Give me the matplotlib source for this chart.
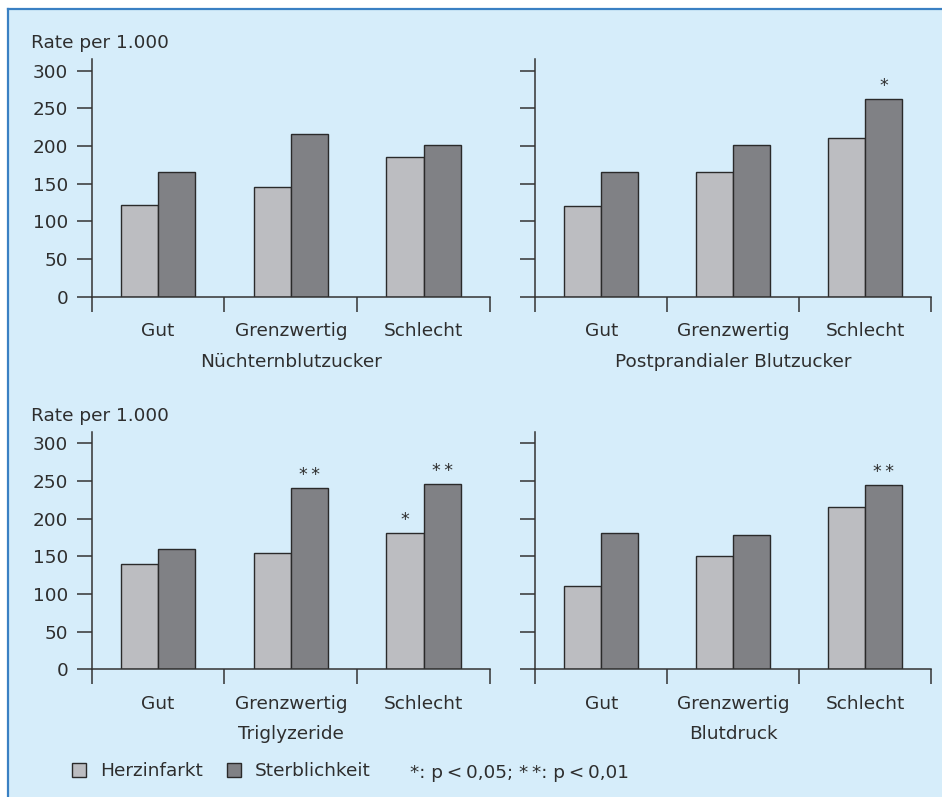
import matplotlib
matplotlib.use("Agg")
import matplotlib.pyplot as plt
import numpy as np

# ---------------- data ----------------
categories = ["Gut", "Grenzwertig", "Schlecht"]
series_names = ["Herzinfarkt", "Sterblichkeit"]
panel_titles = ["Nüchternblutzucker", "Postprandialer Blutzucker", "Triglyzeride", "Blutdruck"]

herz_nuechtern = [122, 145, 186]
sterb_nuechtern = [165, 216, 201]
herz_postprandial = [120, 165, 211]
sterb_postprandial = [165, 201, 262]
herz_trig = [140, 155, 181]
sterb_trig = [160, 241, 246]
herz_blutdruck = [110, 150, 216]
sterb_blutdruck = [181, 178, 244]

# significance marks: (series index, category index, label)
sig_nuechtern = []
sig_postprandial = [(1, 2, "*")]
sig_trig = [(1, 1, "*\u2009*"), (0, 2, "*"), (1, 2, "*\u2009*")]
sig_blutdruck = [(1, 2, "*\u2009*")]

yticks = [0, 50, 100, 150, 200, 250, 300]
ylabel_text = "Rate per 1.000"
note_text = "*: p\u2009<\u20090,05; *\u2009*: p\u2009<\u20090,01"

# ---------------- style ----------------
W, H = 942, 797
BG = "#d6edfa"
BORDER = "#3a80c3"
TXT = "#2e2e2e"
AX = "#333333"
C_LIGHT = "#bcbdc1"
C_DARK = "#808185"
EDGE = "#2a2a2a"
FS = 13.3

plt.rcParams["font.family"] = ["DejaVu Sans"]
plt.rcParams["text.color"] = TXT

fig = plt.figure(figsize=(W / 100, H / 100), dpi=100)
fig.patch.set_facecolor("white")

# light blue panel with blue border on top/left
bg_ax = fig.add_axes([8 / W, 0, 1 - 8 / W, 1 - 9 / H])
bg_ax.set_xlim(0, 1)
bg_ax.set_ylim(0, 1)
bg_ax.set_facecolor(BG)
for s in ["right", "bottom"]:
    bg_ax.spines[s].set_visible(False)
for s in ["top", "left"]:
    bg_ax.spines[s].set_color(BORDER)
    bg_ax.spines[s].set_linewidth(1.6)
bg_ax.set_xticks([])
bg_ax.set_yticks([])
bg_ax.set_zorder(-10)

px = lambda v: v / W
py = lambda v: 1 - v / H

panels = [
    (herz_nuechtern, sterb_nuechtern, sig_nuechtern, panel_titles[0], 91.7, 490.0, 296.7, True),
    (herz_postprandial, sterb_postprandial, sig_postprandial, panel_titles[1], 535.3, 931.3, 296.7, False),
    (herz_trig, sterb_trig, sig_trig, panel_titles[2], 91.7, 490.0, 669.3, True),
    (herz_blutdruck, sterb_blutdruck, sig_blutdruck, panel_titles[3], 535.3, 931.3, 669.3, False),
]

YMAX = 315.5
PXPERUNIT = 226.0 / 300.0
bar_w = 0.28
x = np.arange(len(categories))

legend_handles = None
for herz, sterb, sigs, title, xl, xr, y0, show_labels in panels:
    top_px = y0 - YMAX * PXPERUNIT
    ax = fig.add_axes([px(xl), py(y0), (xr - xl) / W, (y0 - top_px) / H])
    ax.set_facecolor("none")
    b1 = ax.bar(x - bar_w / 2, herz, bar_w, color=C_LIGHT, edgecolor=EDGE, linewidth=1.0,
                label=series_names[0], zorder=3)
    b2 = ax.bar(x + bar_w / 2, sterb, bar_w, color=C_DARK, edgecolor=EDGE, linewidth=1.0,
                label=series_names[1], zorder=3)
    legend_handles = [b1, b2]
    ax.set_xlim(-0.5, 2.5)
    ax.set_ylim(0, YMAX)
    for s in ["top", "right"]:
        ax.spines[s].set_visible(False)
    for s in ["left", "bottom"]:
        ax.spines[s].set_color(AX)
        ax.spines[s].set_linewidth(1.1)
    ax.spines["bottom"].set_zorder(4)

    ax.set_yticks(yticks)
    ax.tick_params(axis="y", direction="out", length=10.8, width=1.1, color=AX,
                   pad=6, labelsize=FS, labelcolor=TXT)
    if not show_labels:
        ax.set_yticklabels([])

    ax.set_xticks([-0.5, 0.5, 1.5, 2.5])
    ax.set_xticklabels([])
    ax.tick_params(axis="x", which="major", direction="out", length=10.8, width=1.1, color=AX)
    ax.set_xticks(x, minor=True)
    ax.set_xticklabels(categories, minor=True)
    ax.tick_params(axis="x", which="minor", length=0, pad=28.5, labelsize=FS, labelcolor=TXT)
    for lab in ax.get_xticklabels(minor=True):
        lab.set_va("baseline")

    ax.annotate(title, xy=(0.5, 0), xycoords="axes fraction", xytext=(0, -70),
                textcoords="offset pixels", ha="center", va="baseline", fontsize=FS, color=TXT)

    if show_labels:
        ax.annotate(ylabel_text, xy=(0, 1), xycoords="axes fraction",
                    xytext=(-60.7, 10.7), textcoords="offset pixels",
                    ha="left", va="baseline", fontsize=FS, color=TXT)

    for si, ci, lab in sigs:
        val = (herz, sterb)[si][ci]
        xpos = x[ci] + (-bar_w / 2 if si == 0 else bar_w / 2)
        ax.annotate(lab, xy=(xpos, val), xycoords="data", xytext=(0, 8),
                    textcoords="offset pixels", ha="center", va="baseline",
                    fontsize=12.5, color=TXT)

leg = fig.legend(legend_handles, series_names, loc="center left",
                 bbox_to_anchor=(px(71.7), py(771.5)), ncol=2, frameon=False,
                 fontsize=FS, handlelength=0.76, handleheight=0.76,
                 handletextpad=0.76, columnspacing=1.3, borderpad=0, borderaxespad=0)
for t in leg.get_texts():
    t.set_color(TXT)

fig.text(px(410), py(778.3), note_text, ha="left", va="baseline", fontsize=FS, color=TXT)

fig.savefig("out.png", dpi=100, facecolor=fig.get_facecolor())
